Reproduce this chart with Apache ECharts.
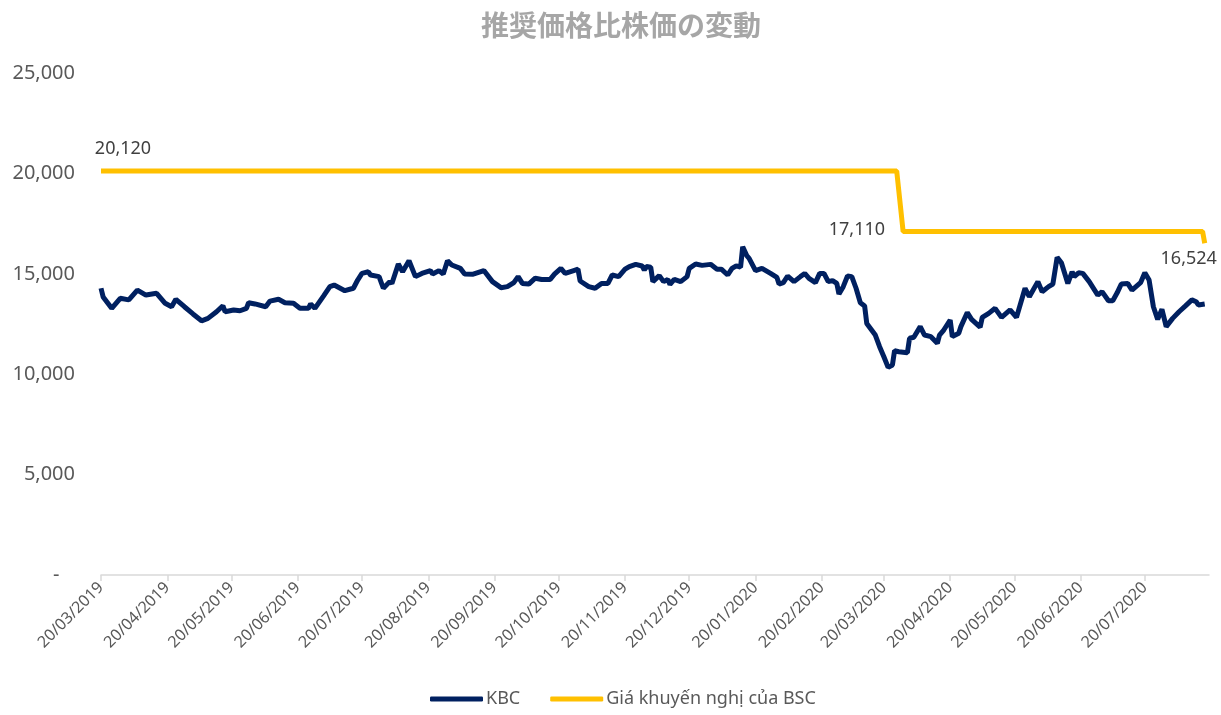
<!DOCTYPE html>
<html><head><meta charset="utf-8">
<script src="https://cdn.jsdelivr.net/npm/echarts@6/dist/echarts.min.js"></script>
<style>html,body{margin:0;padding:0;background:#fff}#c{width:1221px;height:715px}</style>
</head><body><div id="c"></div>
<script>
const titleText = '推奨価格比株価の変動';
const seriesNames = ['KBC', 'Giá khuyến nghị của BSC'];
const startDate = '2019-03-20';
const endDate = '2020-08-19';
const yTicks = [0, 5000, 10000, 15000, 20000, 25000];

const kbcPoints = [
['2019-03-20',14280],['2019-03-21',13850],['2019-03-25',13280],['2019-03-29',13780],['2019-04-02',13700],
['2019-04-06',14190],['2019-04-10',13940],['2019-04-15',14030],['2019-04-19',13530],['2019-04-22',13360],
['2019-04-24',13730],['2019-04-28',13360],['2019-05-02',13000],['2019-05-06',12660],['2019-05-09',12780],
['2019-05-13',13110],['2019-05-16',13410],['2019-05-17',13110],['2019-05-21',13200],['2019-05-24',13160],
['2019-05-27',13280],['2019-05-28',13560],['2019-05-31',13500],['2019-06-05',13360],['2019-06-07',13640],
['2019-06-11',13730],['2019-06-14',13560],['2019-06-18',13530],['2019-06-21',13280],['2019-06-25',13280],
['2019-06-26',13500],['2019-06-28',13280],['2019-07-02',13890],['2019-07-05',14360],['2019-07-07',14440],
['2019-07-12',14160],['2019-07-16',14280],['2019-07-18',14690],['2019-07-20',15020],['2019-07-23',15100],
['2019-07-24',14940],['2019-07-28',14860],['2019-07-30',14280],['2019-08-02',14610],['2019-08-03',14520],
['2019-08-06',15490],['2019-08-08',15100],['2019-08-11',15650],['2019-08-14',14860],['2019-08-17',15020],
['2019-08-21',15160],['2019-08-22',14990],['2019-08-25',15160],['2019-08-27',14990],['2019-08-29',15650],
['2019-08-31',15440],['2019-09-04',15270],['2019-09-06',14990],['2019-09-10',14980],['2019-09-15',15160],
['2019-09-19',14610],['2019-09-23',14310],['2019-09-26',14360],['2019-09-29',14560],['2019-10-01',14860],
['2019-10-03',14520],['2019-10-06',14490],['2019-10-09',14780],['2019-10-12',14720],['2019-10-16',14720],
['2019-10-18',14980],['2019-10-21',15270],['2019-10-23',15020],['2019-10-27',15160],['2019-10-29',15230],
['2019-10-30',14640],['2019-11-03',14360],['2019-11-06',14280],['2019-11-09',14520],['2019-11-12',14520],
['2019-11-14',14940],['2019-11-17',14860],['2019-11-20',15230],['2019-11-22',15360],['2019-11-25',15470],
['2019-11-28',15390],['2019-11-29',15190],['2019-11-30',15360],['2019-12-02',15330],['2019-12-03',14610],
['2019-12-06',14910],['2019-12-08',14610],['2019-12-10',14720],['2019-12-11',14470],['2019-12-13',14720],
['2019-12-16',14610],['2019-12-19',14860],['2019-12-20',15270],['2019-12-23',15490],['2019-12-26',15420],
['2019-12-30',15470],['2020-01-02',15230],['2020-01-04',15230],['2020-01-07',14940],['2020-01-09',15270],
['2020-01-11',15400],['2020-01-13',15330],['2020-01-14',16350],['2020-01-16',15890],['2020-01-17',15770],
['2020-01-20',15160],['2020-01-23',15270],['2020-01-27',15020],['2020-01-30',14820],['2020-01-31',14490],
['2020-02-02',14560],['2020-02-04',14890],['2020-02-07',14610],['2020-02-10',14860],['2020-02-12',15020],
['2020-02-14',14770],['2020-02-17',14560],['2020-02-19',15020],['2020-02-21',15020],['2020-02-23',14610],
['2020-02-25',14660],['2020-02-27',14520],['2020-02-28',13990],['2020-03-01',14360],['2020-03-03',14890],
['2020-03-05',14860],['2020-03-07',14280],['2020-03-09',13560],['2020-03-11',13400],['2020-03-12',12530],
['2020-03-14',12240],['2020-03-16',11950],['2020-03-18',11370],['2020-03-20',10870],['2020-03-22',10340],
['2020-03-24',10460],['2020-03-25',11170],['2020-03-27',11120],['2020-03-31',11070],['2020-04-01',11790],
['2020-04-03',11840],['2020-04-06',12370],['2020-04-08',11950],['2020-04-11',11870],['2020-04-14',11540],
['2020-04-15',11950],['2020-04-17',12200],['2020-04-20',12700],['2020-04-21',11870],['2020-04-24',12040],
['2020-04-25',12370],['2020-04-28',13070],['2020-04-30',12730],['2020-05-04',12340],['2020-05-05',12830],
['2020-05-08',13030],['2020-05-11',13280],['2020-05-14',12830],['2020-05-18',13200],['2020-05-21',12830],
['2020-05-25',14280],['2020-05-27',13860],['2020-05-31',14610],['2020-06-02',14110],['2020-06-05',14360],
['2020-06-07',14490],['2020-06-09',15820],['2020-06-11',15550],['2020-06-14',14520],['2020-06-16',15100],
['2020-06-17',14860],['2020-06-19',15050],['2020-06-21',15020],['2020-06-24',14610],['2020-06-28',13940],
['2020-06-30',14110],['2020-07-03',13660],['2020-07-05',13660],['2020-07-07',14040],['2020-07-09',14490],
['2020-07-12',14520],['2020-07-14',14190],['2020-07-18',14560],['2020-07-20',15050],['2020-07-22',14690],
['2020-07-24',13360],['2020-07-26',12730],['2020-07-28',13230],['2020-07-30',12370],['2020-08-02',12780],
['2020-08-05',13110],['2020-08-08',13400],['2020-08-11',13700],['2020-08-13',13610],['2020-08-14',13450],
['2020-08-17',13500]
];

const bscDates = ['2019-03-20', '2020-03-26', '2020-03-29', '2020-08-16', '2020-08-17'];
const bscValues = [20120, 20120, 17110, 17110, 16524];

function buildDays(s, e) {
  const out = [];
  let t = Date.parse(s + 'T00:00:00Z');
  const end = Date.parse(e + 'T00:00:00Z');
  while (t <= end) { out.push(new Date(t).toISOString().slice(0, 10)); t += 86400000; }
  return out;
}
const days = buildDays(startDate, endDate);
const idx = {};
days.forEach((d, i) => { idx[d] = i; });

const kbcData = days.map(() => null);
kbcPoints.forEach(([d, v]) => { kbcData[idx[d]] = v; });

const labelStyle = { show: true, fontSize: 18, color: '#404040', fontFamily: 'Noto Sans',
  formatter: p => p.value.toLocaleString('en-US') };
const labelPos = {
  0: { position: 'top', offset: [22, -8] },
  2: { position: 'left', offset: [-13, -2] },
  4: { position: 'bottom', offset: [-16, 2] }
};
const bscData = days.map(() => null);
bscDates.forEach((d, i) => {
  const lp = labelPos[i];
  bscData[idx[d]] = lp ? { value: bscValues[i], label: Object.assign({}, labelStyle, lp) } : bscValues[i];
});

const isTickDay = (i, v) => v.slice(8) === '20';
const fmtDate = v => v.slice(8, 10) + '/' + v.slice(5, 7) + '/' + v.slice(0, 4);

const chart = echarts.init(document.getElementById('c'));
chart.setOption({
  animation: false,
  backgroundColor: '#fff',
  title: {
    text: titleText, left: 476, top: 6,
    textStyle: { fontFamily: 'Noto Sans CJK JP', fontWeight: 'bold', fontSize: 28, color: '#a6a6a6' }
  },
  legend: {
    left: 430, top: 690, itemGap: 30, itemWidth: 53, itemHeight: 5, icon: 'roundRect', padding: 0,
    textStyle: { fontFamily: 'Noto Sans', fontSize: 18, color: '#595959', padding: [0, 0, 0, -2] },
    data: seriesNames
  },
  grid: { left: 101, right: 12, top: 73, bottom: 140, containLabel: false },
  xAxis: {
    type: 'category', data: days, boundaryGap: false,
    axisLine: { lineStyle: { color: '#d9d9d9', width: 1.5 } },
    axisTick: { show: true, interval: isTickDay, length: 6, lineStyle: { color: '#d9d9d9', width: 1.5 } },
    axisLabel: { interval: isTickDay, rotate: 45, margin: 10, fontFamily: 'Noto Sans', fontSize: 16, color: '#595959', formatter: fmtDate },
    splitLine: { show: false }
  },
  yAxis: {
    type: 'value', min: yTicks[0], max: yTicks[yTicks.length - 1], interval: 5000,
    axisLine: { show: false }, axisTick: { show: false }, splitLine: { show: false },
    axisLabel: { margin: 26, fontFamily: 'Noto Sans', fontSize: 20, color: '#595959',
      formatter: v => v === 0 ? '-   ' : v.toLocaleString('en-US') }
  },
  series: [
    { name: seriesNames[0], type: 'line', data: kbcData, connectNulls: true, symbol: 'none',
      lineStyle: { color: '#002060', width: 5 }, itemStyle: { color: '#002060' }, z: 3 },
    { name: seriesNames[1], type: 'line', data: bscData, connectNulls: true, symbol: 'circle', symbolSize: 0.1,
      showSymbol: true, showAllSymbol: true,
      lineStyle: { color: '#FFC000', width: 5 }, itemStyle: { color: '#FFC000' }, z: 2 }
  ]
});
</script></body></html>
